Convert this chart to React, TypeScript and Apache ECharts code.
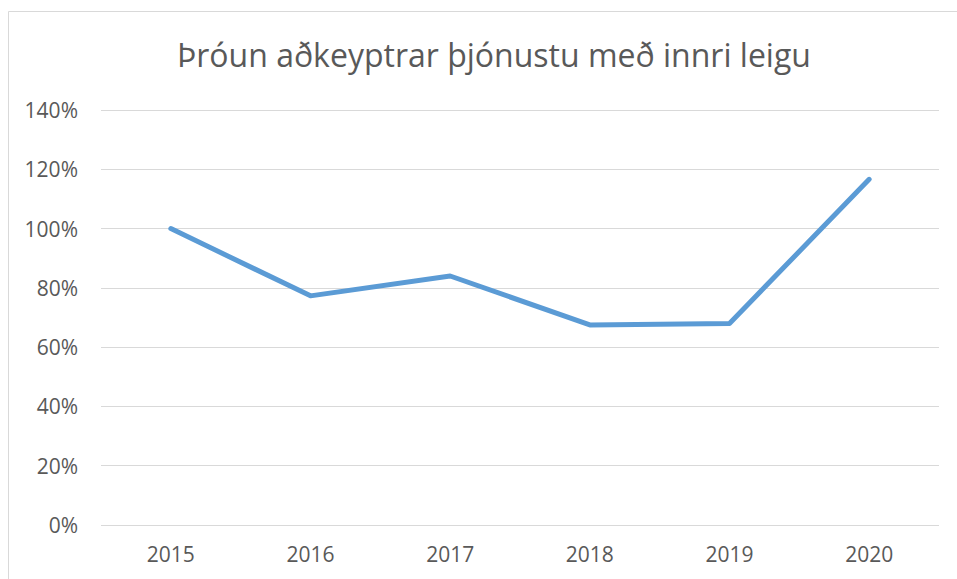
import React, { useEffect, useRef } from "react";
import * as echarts from "echarts";

const title = "Þróun aðkeyptrar þjónustu með innri leigu";
const categories = ["2015", "2016", "2017", "2018", "2019", "2020"];
const values = [100, 77.3, 84, 67.5, 68, 116.6];
const yTicks = [0, 20, 40, 60, 80, 100, 120, 140];

export default function App() {
  const ref = useRef<HTMLDivElement>(null);
  useEffect(() => {
    if (!ref.current) return;
    const chart = echarts.init(ref.current, undefined, { renderer: "svg" });
    const font = "'Open Sans', sans-serif";
    chart.setOption({
      animation: false,
      backgroundColor: "#ffffff",
      title: {
        text: title,
        left: 172,
        top: 33,
        textStyle: { fontFamily: font, fontSize: 32, fontWeight: "normal", color: "#595959" },
      },
      graphic: [
        {
          type: "rect",
          shape: { x: 8.5, y: 11.5, width: 1000, height: 1000 },
          style: { fill: "none", stroke: "#d9d9d9", lineWidth: 1 },
          silent: true,
        },
      ],
      grid: { left: 101, right: 18, top: 110, bottom: 54 },
      xAxis: {
        type: "category",
        data: categories,
        boundaryGap: true,
        axisLine: { show: false },
        axisTick: { show: false },
        axisLabel: { fontFamily: font, fontSize: 21, color: "#595959", margin: 18 },
      },
      yAxis: {
        type: "value",
        min: yTicks[0],
        max: yTicks[yTicks.length - 1],
        interval: 20,
        axisLine: { show: false },
        axisTick: { show: false },
        axisLabel: {
          fontFamily: font,
          fontSize: 21,
          color: "#595959",
          margin: 23,
          formatter: (v: number) => `${v}%`,
        },
        splitLine: { lineStyle: { color: "#d9d9d9", width: 1 } },
      },
      series: [
        {
          type: "line",
          data: values,
          showSymbol: false,
          symbol: "none",
          lineStyle: { color: "#5b9bd5", width: 5, cap: "round", join: "round" },
        },
      ],
    });
    return () => chart.dispose();
  }, []);
  return (
    <div
      ref={ref}
      style={{ position: "absolute", left: 0, top: 0, width: 957, height: 579 }}
    />
  );
}
